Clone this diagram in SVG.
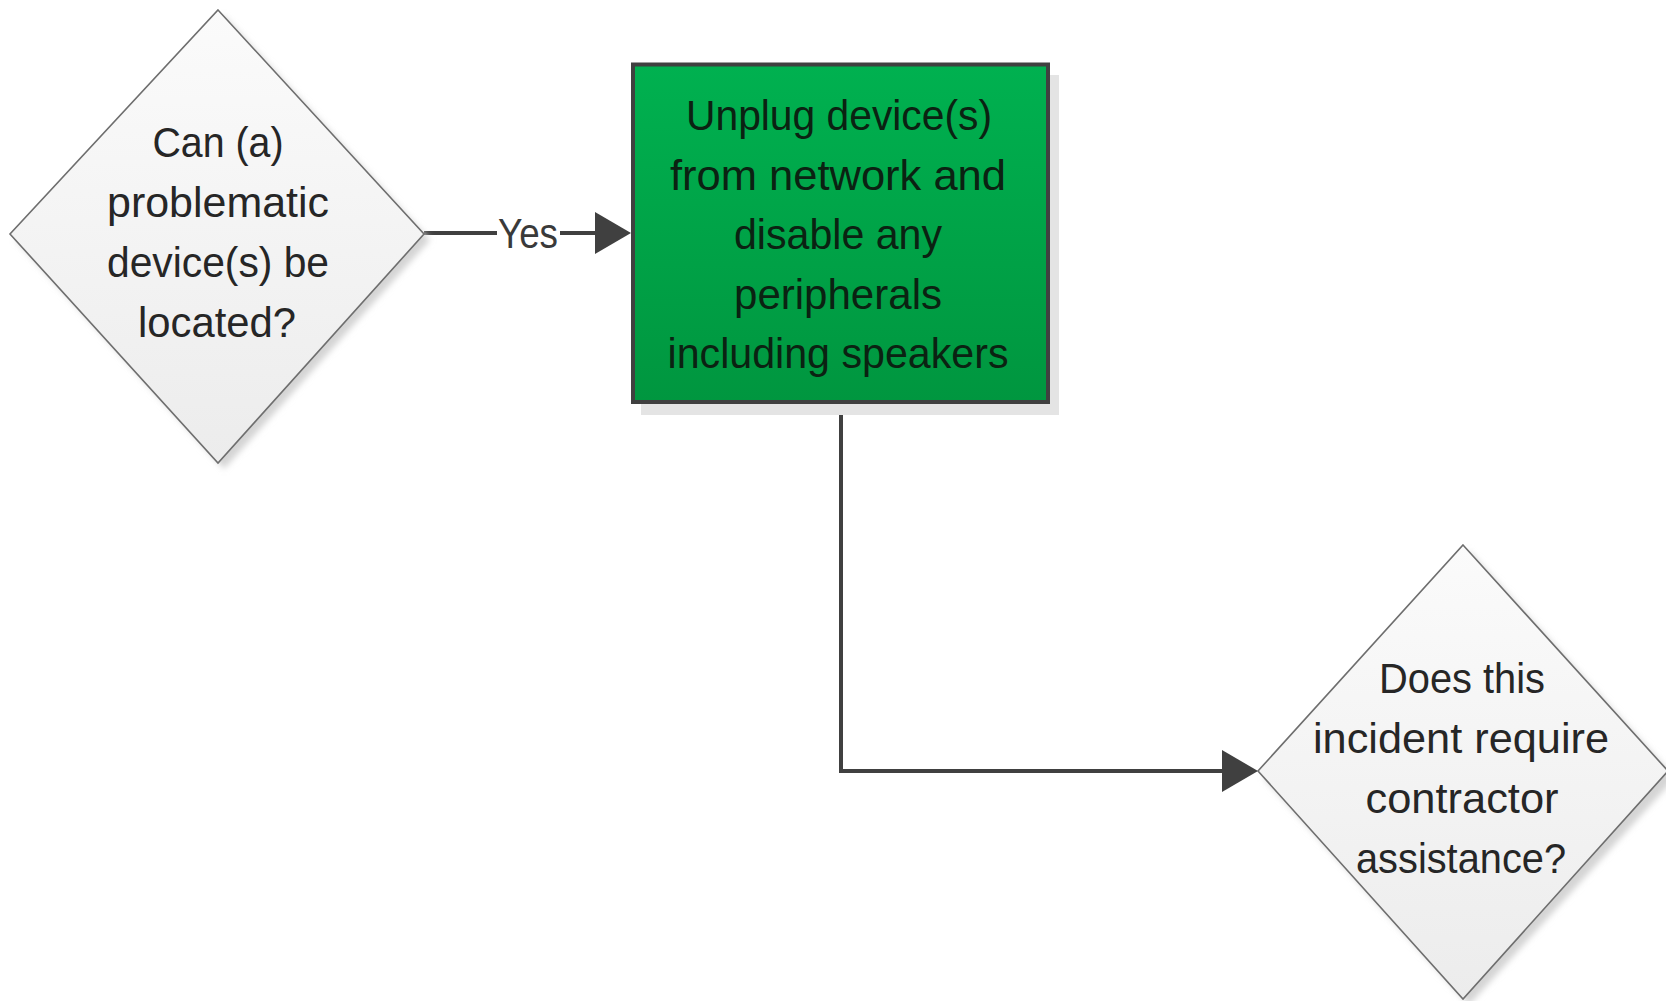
<svg xmlns="http://www.w3.org/2000/svg" width="1666" height="1001" viewBox="0 0 1666 1001">
  <style>
    .label { font-family: "Liberation Sans", Arial, sans-serif; font-size: 43px; text-anchor: middle; }
    .dec-text { fill: #262626; }
    .proc-text { fill: #0b2212; }
    .decision { stroke: #6e6e6e; stroke-width: 1.6; fill: url(#decFill); }
    .dec-shadow { fill: #d4d4d4; filter: url(#soft); }
    .process { stroke: #404040; stroke-width: 4; fill: url(#procFill); }
    .proc-shadow { fill: #e4e4e4; }
    .conn { fill: none; stroke: #404040; stroke-width: 4; }
    .conn-label { font-family: "Liberation Sans", Arial, sans-serif; font-size: 43px; fill: #3a3a3a; text-anchor: middle; }
  </style>
  <defs>
    <linearGradient id="decFill" x1="0" y1="0" x2="0" y2="1">
      <stop offset="0" stop-color="#fbfbfb"/>
      <stop offset="1" stop-color="#ececec"/>
    </linearGradient>
    <linearGradient id="procFill" x1="0" y1="0" x2="0" y2="1">
      <stop offset="0" stop-color="#00b150"/>
      <stop offset="1" stop-color="#00963f"/>
    </linearGradient>
    <filter id="soft" x="-10%" y="-10%" width="120%" height="120%">
      <feGaussianBlur stdDeviation="3"/>
    </filter>
    <marker id="arrow" markerUnits="userSpaceOnUse" markerWidth="40" markerHeight="44" refX="30" refY="21" orient="auto">
      <path d="M0,0 L36,21 L0,42 Z" fill="#404040"/>
    </marker>
  </defs>

  <rect width="1666" height="1001" fill="#ffffff"/>

  <!-- connectors -->
  <g id="connectors">
    <path class="conn" d="M424,233 H625" marker-end="url(#arrow)"/>
    <rect x="497" y="222" width="63" height="22" fill="#ffffff"/>
    <text class="conn-label" x="528" y="248" textLength="60" lengthAdjust="spacingAndGlyphs">Yes</text>
    <path class="conn" d="M841,402 V771 H1252" marker-end="url(#arrow)"/>
  </g>

  <!-- decision: device located? -->
  <g id="node-locate">
    <polygon class="dec-shadow" points="224,16 430,240 224,469 16,240"/>
    <polygon class="decision" points="218,10 424,234 218,463 10,234"/>
    <text class="label dec-text" x="218" y="157" textLength="131" lengthAdjust="spacingAndGlyphs">Can (a)</text>
    <text class="label dec-text" x="218" y="217" textLength="222" lengthAdjust="spacingAndGlyphs">problematic</text>
    <text class="label dec-text" x="218" y="277" textLength="222" lengthAdjust="spacingAndGlyphs">device(s) be</text>
    <text class="label dec-text" x="217" y="337" textLength="158" lengthAdjust="spacingAndGlyphs">located?</text>
  </g>

  <!-- process: unplug devices -->
  <g id="node-unplug">
    <rect class="proc-shadow" x="641" y="75" width="418" height="340"/>
    <rect class="process" x="633" y="64.5" width="415" height="337.5"/>
    <text class="label proc-text" x="839" y="130" textLength="306" lengthAdjust="spacingAndGlyphs">Unplug device(s)</text>
    <text class="label proc-text" x="838" y="189.5" textLength="336" lengthAdjust="spacingAndGlyphs">from network and</text>
    <text class="label proc-text" x="838" y="249" textLength="208" lengthAdjust="spacingAndGlyphs">disable any</text>
    <text class="label proc-text" x="838" y="308.5" textLength="208" lengthAdjust="spacingAndGlyphs">peripherals</text>
    <text class="label proc-text" x="838" y="368" textLength="341" lengthAdjust="spacingAndGlyphs">including speakers</text>
  </g>

  <!-- decision: contractor assistance? -->
  <g id="node-contractor">
    <polygon class="dec-shadow" points="1469,551 1675,778 1469,1005 1264,778"/>
    <polygon class="decision" points="1463,545 1668,771 1463,999 1258,771"/>
    <text class="label dec-text" x="1462" y="693" textLength="166" lengthAdjust="spacingAndGlyphs">Does this</text>
    <text class="label dec-text" x="1461" y="753" textLength="296" lengthAdjust="spacingAndGlyphs">incident require</text>
    <text class="label dec-text" x="1462" y="813" textLength="193" lengthAdjust="spacingAndGlyphs">contractor</text>
    <text class="label dec-text" x="1461" y="873" textLength="210" lengthAdjust="spacingAndGlyphs">assistance?</text>
  </g>
</svg>
